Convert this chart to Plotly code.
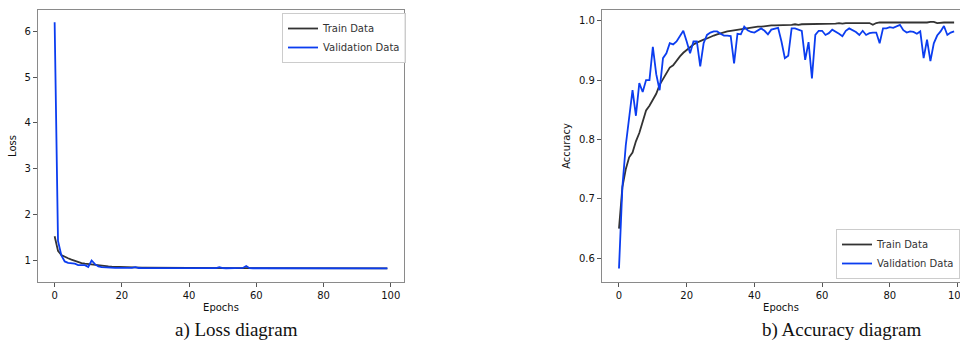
import plotly.graph_objects as go

epochs = list(range(100))

loss_train = [1.52, 1.20, 1.11, 1.07, 1.04, 1.01, 0.98, 0.955, 0.935, 0.92,
              0.91, 0.90, 0.89, 0.88, 0.873, 0.868, 0.862, 0.857, 0.853, 0.850,
              0.847, 0.845, 0.843, 0.841, 0.839, 0.838, 0.836, 0.835, 0.834, 0.833,
              0.832, 0.831, 0.830, 0.829, 0.829, 0.828, 0.828, 0.827, 0.827, 0.826,
              0.826, 0.825, 0.825, 0.825, 0.824, 0.824, 0.824, 0.823, 0.823, 0.823,
              0.823, 0.822, 0.822, 0.822, 0.822, 0.822, 0.821, 0.821, 0.821, 0.821,
              0.821, 0.821, 0.820, 0.820, 0.820, 0.820, 0.820, 0.820, 0.820, 0.820,
              0.820, 0.820, 0.819, 0.819, 0.819, 0.819, 0.819, 0.819, 0.819, 0.819,
              0.819, 0.819, 0.819, 0.819, 0.819, 0.818, 0.818, 0.818, 0.818, 0.818,
              0.818, 0.818, 0.818, 0.818, 0.818, 0.818, 0.818, 0.818, 0.818, 0.818]

loss_val = [6.20, 1.42, 1.10, 0.97, 0.94, 0.93, 0.92, 0.89, 0.885, 0.89,
            0.85, 0.99, 0.91, 0.86, 0.845, 0.838, 0.835, 0.832, 0.830, 0.829,
            0.828, 0.827, 0.827, 0.830, 0.845, 0.826, 0.825, 0.825, 0.824, 0.824,
            0.824, 0.823, 0.823, 0.823, 0.823, 0.822, 0.822, 0.822, 0.822, 0.822,
            0.822, 0.821, 0.821, 0.821, 0.821, 0.821, 0.821, 0.821, 0.825, 0.845,
            0.822, 0.821, 0.821, 0.821, 0.821, 0.821, 0.828, 0.870, 0.822, 0.821,
            0.821, 0.820, 0.820, 0.820, 0.820, 0.820, 0.820, 0.820, 0.820, 0.820,
            0.820, 0.820, 0.820, 0.820, 0.820, 0.820, 0.820, 0.820, 0.820, 0.820,
            0.820, 0.820, 0.820, 0.820, 0.820, 0.820, 0.820, 0.820, 0.820, 0.821,
            0.826, 0.836, 0.822, 0.820, 0.820, 0.820, 0.820, 0.820, 0.820, 0.820]

acc_train = [0.650, 0.720, 0.750, 0.770, 0.778, 0.797, 0.811, 0.830, 0.849, 0.857,
             0.866, 0.877, 0.892, 0.902, 0.910, 0.921, 0.925, 0.933, 0.940, 0.946,
             0.951, 0.956, 0.960, 0.963, 0.966, 0.968, 0.970, 0.973, 0.975, 0.977,
             0.979, 0.980, 0.982, 0.983, 0.984, 0.985, 0.986, 0.987, 0.988, 0.988,
             0.989, 0.990, 0.990, 0.991, 0.991, 0.992, 0.992, 0.992, 0.993, 0.992,
             0.993, 0.993, 0.994, 0.993, 0.994, 0.994, 0.994, 0.995, 0.994, 0.995,
             0.995, 0.995, 0.994, 0.995, 0.995, 0.996, 0.995, 0.996, 0.996, 0.996,
             0.996, 0.996, 0.997, 0.996, 0.996, 0.993, 0.996, 0.997, 0.997, 0.996,
             0.997, 0.997, 0.997, 0.996, 0.997, 0.997, 0.997, 0.996, 0.997, 0.997,
             0.997, 0.997, 0.998, 0.998, 0.996, 0.997, 0.997, 0.997, 0.997, 0.997]

acc_val = [0.583, 0.720, 0.790, 0.835, 0.883, 0.840, 0.895, 0.880, 0.900, 0.900,
           0.956, 0.910, 0.883, 0.937, 0.945, 0.962, 0.960, 0.965, 0.973, 0.983,
           0.965, 0.945, 0.965, 0.965, 0.923, 0.962, 0.976, 0.980, 0.982, 0.982,
           0.978, 0.975, 0.975, 0.974, 0.928, 0.978, 0.977, 0.990, 0.984, 0.981,
           0.980, 0.983, 0.987, 0.983, 0.977, 0.985, 0.987, 0.988, 0.965, 0.937,
           0.941, 0.987, 0.987, 0.985, 0.983, 0.934, 0.964, 0.903, 0.976, 0.983,
           0.983, 0.976, 0.979, 0.985, 0.982, 0.978, 0.974, 0.983, 0.987, 0.984,
           0.981, 0.976, 0.983, 0.976, 0.979, 0.980, 0.980, 0.962, 0.987, 0.987,
           0.989, 0.988, 0.991, 0.993, 0.984, 0.980, 0.982, 0.981, 0.978, 0.982,
           0.937, 0.968, 0.932, 0.962, 0.975, 0.982, 0.991, 0.976, 0.980, 0.982]

names = ["Train Data", "Validation Data"]
colors = ["#333333", "#0b3df0"]

W, H = 960, 342
def px(x): return x / W
def py(y): return 1 - y / H

fig = go.Figure()

for series, name, col in zip([loss_train, loss_val], names, colors):
    fig.add_trace(go.Scatter(x=epochs, y=series, mode="lines", name=name,
                             line=dict(color=col, width=1.8),
                             xaxis="x", yaxis="y", legend="legend"))
for series, name, col in zip([acc_train, acc_val], names, colors):
    fig.add_trace(go.Scatter(x=epochs, y=series, mode="lines", name=name,
                             line=dict(color=col, width=1.8),
                             xaxis="x2", yaxis="y2", legend="legend2"))

axis_common = dict(showline=True, linecolor="#8a8a8a", linewidth=1.2,
                   ticks="outside", ticklen=4, tickcolor="#555555",
                   showgrid=False, zeroline=False, ticklabeloverflow="allow",
                   tickfont=dict(family="DejaVu Sans", size=10, color="#111111"))
title_font = dict(family="DejaVu Sans", size=10, color="#111111")

fig.update_layout(
    width=W, height=H,
    margin=dict(l=0, r=0, t=0, b=0, autoexpand=False),
    paper_bgcolor="white", plot_bgcolor="white",
    xaxis=dict(domain=[px(38), px(404)], range=[-4.95, 103.95], anchor="y",
               tickvals=[0, 20, 40, 60, 80, 100], mirror=True,
               title=dict(text="Epochs", font=title_font, standoff=3), **axis_common),
    yaxis=dict(domain=[py(282), py(10)], range=[0.52, 6.47], anchor="x",
               tickvals=[1, 2, 3, 4, 5, 6], mirror=True,
               title=dict(text="Loss", font=title_font, standoff=6), **axis_common),
    xaxis2=dict(domain=[px(602), 1.0], range=[-5.02, 100.74], anchor="y2",
                tickvals=[0, 20, 40, 60, 80, 100], mirror=True,
                title=dict(text="Epochs", font=title_font, standoff=3), **axis_common),
    yaxis2=dict(domain=[py(282), py(10)], range=[0.5602, 1.018], anchor="x2",
                tickvals=[0.6, 0.7, 0.8, 0.9, 1.0], ticktext=["0.6", "0.7", "0.8", "0.9", "1.0"],
                mirror=False,
                title=dict(text="Accuracy", font=title_font, standoff=6), **axis_common),
    legend=dict(x=px(282), y=py(13), xanchor="left", yanchor="top",
                bgcolor="rgba(255,255,255,0.8)", bordercolor="#cccccc", borderwidth=1,
                font=dict(family="DejaVu Sans", size=10, color="#333333"),
                tracegroupgap=0, itemwidth=30),
    legend2=dict(x=px(836), y=py(279), xanchor="left", yanchor="bottom",
                 bgcolor="rgba(255,255,255,0.8)", bordercolor="#cccccc", borderwidth=1,
                 font=dict(family="DejaVu Sans", size=10, color="#333333"),
                 tracegroupgap=0, itemwidth=30),
    annotations=[
        dict(text="a) Loss diagram", x=px(236), y=py(330), xref="paper", yref="paper",
             xanchor="center", yanchor="middle", showarrow=False,
             font=dict(family="Liberation Serif", size=19, color="#111111")),
        dict(text="b) Accuracy diagram", x=px(842), y=py(330), xref="paper", yref="paper",
             xanchor="center", yanchor="middle", showarrow=False,
             font=dict(family="Liberation Serif", size=19, color="#111111")),
    ],
)

fig.write_html("out.html", config={"displayModeBar": False},
               post_script="document.body.style.margin='0';document.body.style.overflow='hidden';")
